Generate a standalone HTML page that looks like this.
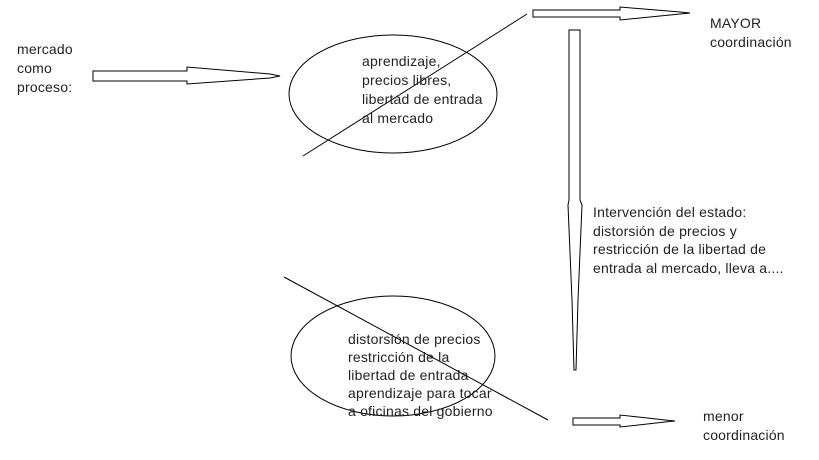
<!DOCTYPE html>
<html><head><style>
body{margin:0;background:#fff;width:819px;height:460px;overflow:hidden;position:relative;font-family:"Liberation Sans",sans-serif;font-size:14px;color:#222;letter-spacing:0.2px}
.t{position:absolute;line-height:19px;white-space:nowrap}
svg{position:absolute;left:0;top:0}
</style></head><body>
<svg width="819" height="460" fill="none" stroke="#000" stroke-width="1">
<ellipse cx="393" cy="94" rx="104" ry="59"/>
<ellipse cx="393" cy="356" rx="102" ry="60"/>
<line x1="303" y1="156" x2="527" y2="14"/>
<line x1="284" y1="277" x2="548" y2="420"/>
<polygon points="93,71 187,71 187,67 270,74 280,76 270,78 187,84 187,81 93,81" fill="#fff"/>
<polygon points="533,10 620,10 620,7 680,12 690,13 680,14 620,20 620,17 533,17" fill="#fff"/>
<polygon points="573,418 620,418 620,415 665,420 675,421 665,422 620,427 620,425 573,425" fill="#fff"/>
<polygon points="569,30 580,30 580,200 582,205 578,300 576,370 574,370 572,300 568,205 569,200" fill="#fff"/>
</svg>
<div class="t" style="left:17px;top:40px">mercado<br>como<br>proceso:</div>
<div class="t" style="left:362px;top:52px">aprendizaje,<br>precios libres,<br>libertad de entrada<br>al mercado</div>
<div class="t" style="left:710px;top:14px">MAYOR<br>coordinación</div>
<div class="t" style="left:593px;top:203px;line-height:18.5px">Intervención del estado:<br>distorsión de precios y<br>restricción de la libertad de<br>entrada al mercado, lleva a....</div>
<div class="t" style="left:348px;top:330px;line-height:18px">distorsión de precios<br>restricción de la<br>libertad de entrada<br>aprendizaje para tocar<br>a oficinas del gobierno</div>
<div class="t" style="left:703px;top:407px">menor<br>coordinación</div>
</body></html>
